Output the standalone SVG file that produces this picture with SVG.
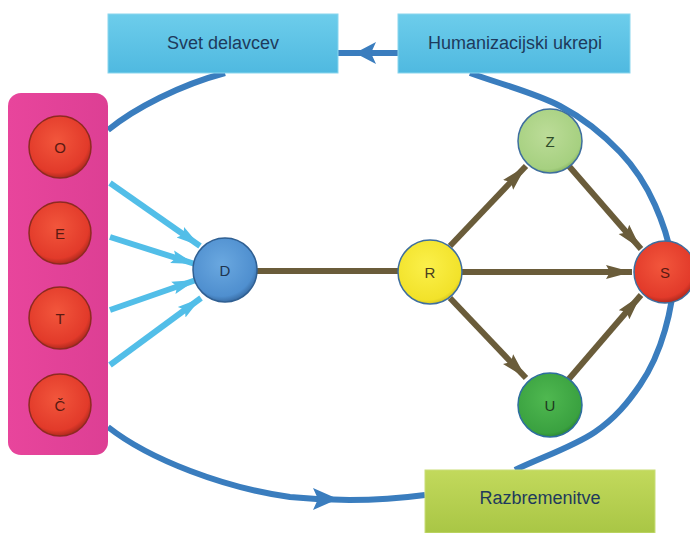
<svg xmlns="http://www.w3.org/2000/svg" width="690" height="533" viewBox="0 0 690 533">
<defs>
<style>
.lbl{font-family:"Liberation Sans",Arial,sans-serif;font-size:18px;fill:#1E3A5C;text-anchor:middle;dominant-baseline:central}
.cl{font-family:"Liberation Sans",Arial,sans-serif;font-size:15px;text-anchor:middle;dominant-baseline:central}
.blue{fill:none;stroke:#3A7DBE;stroke-width:6;stroke-linecap:butt}
.brown{fill:none;stroke:#6A5C3A;stroke-width:6}
.cyan{fill:none;stroke:#52BEE8;stroke-width:6}
</style>
<radialGradient id="gRed" cx="0.45" cy="0.4" r="0.6"><stop offset="0" stop-color="#F2563C"/><stop offset="0.85" stop-color="#E23A2A"/><stop offset="1" stop-color="#B22A1E"/></radialGradient>
<radialGradient id="gBlue" cx="0.45" cy="0.4" r="0.6"><stop offset="0" stop-color="#6AA8E0"/><stop offset="0.85" stop-color="#4F8FCF"/><stop offset="1" stop-color="#3A6FA8"/></radialGradient>
<radialGradient id="gYel" cx="0.45" cy="0.4" r="0.6"><stop offset="0" stop-color="#FBF04A"/><stop offset="0.9" stop-color="#F2E22A"/><stop offset="1" stop-color="#D8C820"/></radialGradient>
<radialGradient id="gLg" cx="0.45" cy="0.4" r="0.6"><stop offset="0" stop-color="#BCDC98"/><stop offset="0.9" stop-color="#A6D080"/><stop offset="1" stop-color="#8CBA68"/></radialGradient>
<radialGradient id="gDg" cx="0.45" cy="0.4" r="0.6"><stop offset="0" stop-color="#4FB850"/><stop offset="0.9" stop-color="#3AA140"/><stop offset="1" stop-color="#2D8A34"/></radialGradient>
<linearGradient id="gSky" x1="0" y1="0" x2="0" y2="1"><stop offset="0" stop-color="#6DCDEB"/><stop offset="1" stop-color="#4FB9E0"/></linearGradient>
<linearGradient id="gLime" x1="0" y1="0" x2="0" y2="1"><stop offset="0" stop-color="#C2D95C"/><stop offset="1" stop-color="#A9C645"/></linearGradient>
<linearGradient id="gPink" x1="0" y1="0" x2="1" y2="0"><stop offset="0" stop-color="#E8459C"/><stop offset="1" stop-color="#DD3F94"/></linearGradient>
<marker id="mBrown" markerUnits="userSpaceOnUse" markerWidth="28" markerHeight="16" refX="26" refY="8" orient="auto"><path d="M0,1 L26,8 L0,15 L4,8 z" fill="#6A5C3A"/></marker>
<marker id="mCyan" markerUnits="userSpaceOnUse" markerWidth="26" markerHeight="16" refX="24" refY="8" orient="auto"><path d="M0,1.5 L24,8 L0,14.5 L4,8 z" fill="#52BEE8"/></marker>
</defs>
<rect width="690" height="533" fill="#FFFFFF"/>

<g id="connectors">
<path class="blue" d="M108,130 C135,108 180,85 225,73"/>
<path class="blue" d="M398,53 L338,53"/>
<polygon points="355,53 376,42 371,53 376,64" fill="#3A7DBE"/>
<path class="blue" d="M470,73 C500,84 535,92.8 560,106 C585,119.2 604.2,135.5 620,152 C635.8,168.5 646.2,185.3 655,205 C663.8,224.7 671.3,249.2 673,270 C674.7,290.8 670.5,310.8 665,330 C659.5,349.2 651.7,368 640,385 C628.3,402 615.8,417.8 595,432 C574.2,446.2 541.7,457.3 515,470"/>
<path class="blue" d="M425,495 C380,501 330,501 290,497 C225,488 150,460 108,427"/>
<polygon points="338,499 313,488 318,499 313,510" fill="#3A7DBE"/>
<path class="cyan" d="M110,183 L200,246" marker-end="url(#mCyan)"/>
<path class="cyan" d="M110,237 L195,264" marker-end="url(#mCyan)"/>
<path class="cyan" d="M110,310 L196,280" marker-end="url(#mCyan)"/>
<path class="cyan" d="M110,365 L201,298" marker-end="url(#mCyan)"/>
<path class="brown" d="M257,271 L399,271"/>
<path class="brown" d="M462,272 L632,272" marker-end="url(#mBrown)"/>
<path class="brown" d="M450,246 L526,166" marker-end="url(#mBrown)"/>
<path class="brown" d="M568,165 L641,249" marker-end="url(#mBrown)"/>
<path class="brown" d="M450,298 L526,378" marker-end="url(#mBrown)"/>
<path class="brown" d="M568,380 L641,295" marker-end="url(#mBrown)"/>
</g>

<g id="svet"><rect x="108" y="14" width="230" height="59" fill="url(#gSky)" stroke="#8AD6EE" stroke-width="1"/><text class="lbl" x="223" y="43">Svet delavcev</text></g>
<g id="human"><rect x="398" y="14" width="232" height="59" fill="url(#gSky)" stroke="#8AD6EE" stroke-width="1"/><text class="lbl" x="515" y="43">Humanizacijski ukrepi</text></g>
<g id="razb"><rect x="425" y="470" width="230" height="63" fill="url(#gLime)" stroke="#C9DE78" stroke-width="1"/><text class="lbl" x="540" y="498">Razbremenitve</text></g>

<g id="group"><rect x="8" y="93" width="100" height="362" rx="13" fill="url(#gPink)"/></g>
<g id="nO"><circle cx="60" cy="147" r="31" fill="url(#gRed)" stroke="#8E2A20" stroke-width="1.5"/><text class="cl" x="60" y="147" fill="#5A1A12">O</text></g>
<g id="nE"><circle cx="60" cy="233" r="31" fill="url(#gRed)" stroke="#8E2A20" stroke-width="1.5"/><text class="cl" x="60" y="233" fill="#5A1A12">E</text></g>
<g id="nT"><circle cx="60" cy="318" r="31" fill="url(#gRed)" stroke="#8E2A20" stroke-width="1.5"/><text class="cl" x="60" y="318" fill="#5A1A12">T</text></g>
<g id="nC"><circle cx="60" cy="405" r="31" fill="url(#gRed)" stroke="#8E2A20" stroke-width="1.5"/><text class="cl" x="60" y="405" fill="#5A1A12">Č</text></g>
<g id="nD"><circle cx="225" cy="270" r="32" fill="url(#gBlue)" stroke="#2F5F92" stroke-width="1.5"/><text class="cl" x="225" y="270" fill="#1E3550">D</text></g>
<g id="nR"><circle cx="430" cy="272" r="32" fill="url(#gYel)" stroke="#3E6E9E" stroke-width="1.5"/><text class="cl" x="430" y="272" fill="#4A4020">R</text></g>
<g id="nZ"><circle cx="550" cy="141" r="32" fill="url(#gLg)" stroke="#3E6E9E" stroke-width="1.5"/><text class="cl" x="550" y="141" fill="#2E4A28">Z</text></g>
<g id="nS"><circle cx="665" cy="272" r="31" fill="url(#gRed)" stroke="#3E6E9E" stroke-width="1.5"/><text class="cl" x="665" y="272" fill="#5A1A12">S</text></g>
<g id="nU"><circle cx="550" cy="405" r="32" fill="url(#gDg)" stroke="#2E6E9E" stroke-width="1.5"/><text class="cl" x="550" y="405" fill="#1E3A20">U</text></g>
</svg>
